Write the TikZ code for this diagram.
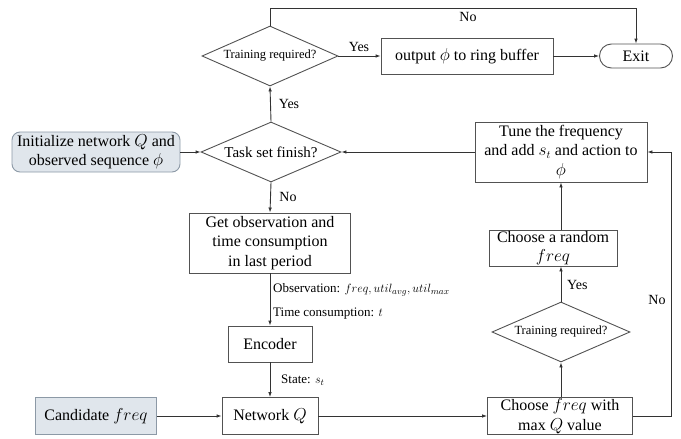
\documentclass[tikz,border=0pt]{standalone}
\usepackage{fontspec}
\setmainfont{Liberation Serif}
\usetikzlibrary{shapes.geometric,arrows.meta,calc}

\definecolor{linec}{HTML}{333333}
\definecolor{boxfill}{HTML}{E0E6EC}
\definecolor{boxedge}{HTML}{8C99A6}

\tikzset{
  proc/.style={draw=linec!85, line width=0.9pt, rectangle, align=center,
    inner sep=1pt, font=\fontsize{16}{19.5}\selectfont},
  inbox/.style={proc, fill=boxfill, draw=boxedge},
  decide/.style={draw=linec!85, line width=0.9pt, diamond, aspect=2.3,
    inner sep=0pt, align=center},
  flow/.style={draw=linec, line width=0.9pt, -{Latex[length=5pt,width=3.6pt]}},
  tag/.style={font=\fontsize{14}{16}\selectfont, inner sep=0pt},
  note/.style={font=\fontsize{13}{15}\selectfont, inner sep=0pt, anchor=west}
}

\begin{document}
\begin{tikzpicture}[x=1pt,y=-1pt]
\useasboundingbox (0,0) rectangle (681,439);

% decisions
\node[decide, minimum width=136pt, minimum height=60pt,
  font=\fontsize{12.5}{14}\selectfont] (train1) at (270,56) {Training required?};
\node[decide, minimum width=140pt, minimum height=60pt,
  font=\fontsize{15}{17}\selectfont] (taskdone) at (271,152) {Task set finish?};
\node[decide, minimum width=138pt, minimum height=60pt,
  font=\fontsize{12.5}{14}\selectfont] (train2) at (561,332) {Training required?};

% process boxes
\node[proc, minimum width=172pt, minimum height=36pt] (ring) at (467,56)
  {output $\phi$ to ring buffer};
\node[proc, rounded corners=12pt, minimum width=73pt, minimum height=24pt] (exit)
  at (636,56) {Exit};
\node[inbox, rounded corners=8pt, minimum width=168pt, minimum height=40pt] (init)
  at (96,152) {Initialize network $Q$ and\\observed sequence $\phi$};
\node[proc, minimum width=161pt, minimum height=60pt] (obs) at (270,243)
  {Get observation and\\time consumption\\in last period};
\node[proc, minimum width=84pt, minimum height=36pt] (enc) at (270,344) {Encoder};
\node[proc, minimum width=96pt, minimum height=37pt] (netq) at (270,416)
  {Network $Q$};
\node[inbox, minimum width=121pt, minimum height=37pt] (cand) at (96,416)
  {Candidate $freq$};
\node[proc, minimum width=145pt, minimum height=36pt] (choose) at (560,416)
  {Choose $freq$ with\\max $Q$ value};
\node[proc, minimum width=128pt, minimum height=36pt] (rand) at (553,248)
  {Choose a random\\$freq$};
\node[proc, minimum width=172pt, minimum height=60pt] (tune) at (561,152)
  {Tune the frequency\\and add $s_t$ and action to\\$\phi$};

% helper points
\coordinate (topturn) at (270,8);
\coordinate (rightturn) at (671,416);

% connectors
\draw[flow] (train1.north) -- (topturn) -| (exit.north);
\node[tag] (lno1) at (468,17) {No};
\draw[flow] (train1.east) -- (ring.west);
\node[tag] (lyes1) at (359,47) {Yes};
\draw[flow] (ring.east) -- (exit.west);

\draw[flow] (taskdone.north) -- (train1.south);
\node[tag] (lyes2) at (289,104) {Yes};
\draw[flow] (init.east) -- (taskdone.west);
\draw[flow] (taskdone.south) -- (obs.north);
\node[tag] (lno2) at (288,197) {No};

\draw[flow] (obs.south) -- (enc.north);
\node[note] (lobs) at (273,290) {Observation: $freq, util_{avg}, util_{max}$};
\node[note] (ltime) at (273,314) {Time consumption: $t$};

\draw[flow] (enc.south) -- (netq.north);
\node[note] (lstate) at (281,380) {State: $s_t$};

\draw[flow] (cand.east) -- (netq.west);
\draw[flow] (netq.east) -- (choose.west);
\draw[flow] (choose.north -| train2.south) -- (train2.south);
\draw[flow] (train2.north) -- (train2.north |- rand.south);
\node[tag, anchor=west] (lyes3) at (567,285) {Yes};
\draw[flow] (rand.north -| tune.south) -- (tune.south);

\draw[flow] (choose.east) -- (rightturn) |- (tune.east);
\node[tag] (lno3) at (657,300) {No};

\draw[flow] (tune.west) -- (taskdone.east);
\end{tikzpicture}
\end{document}
